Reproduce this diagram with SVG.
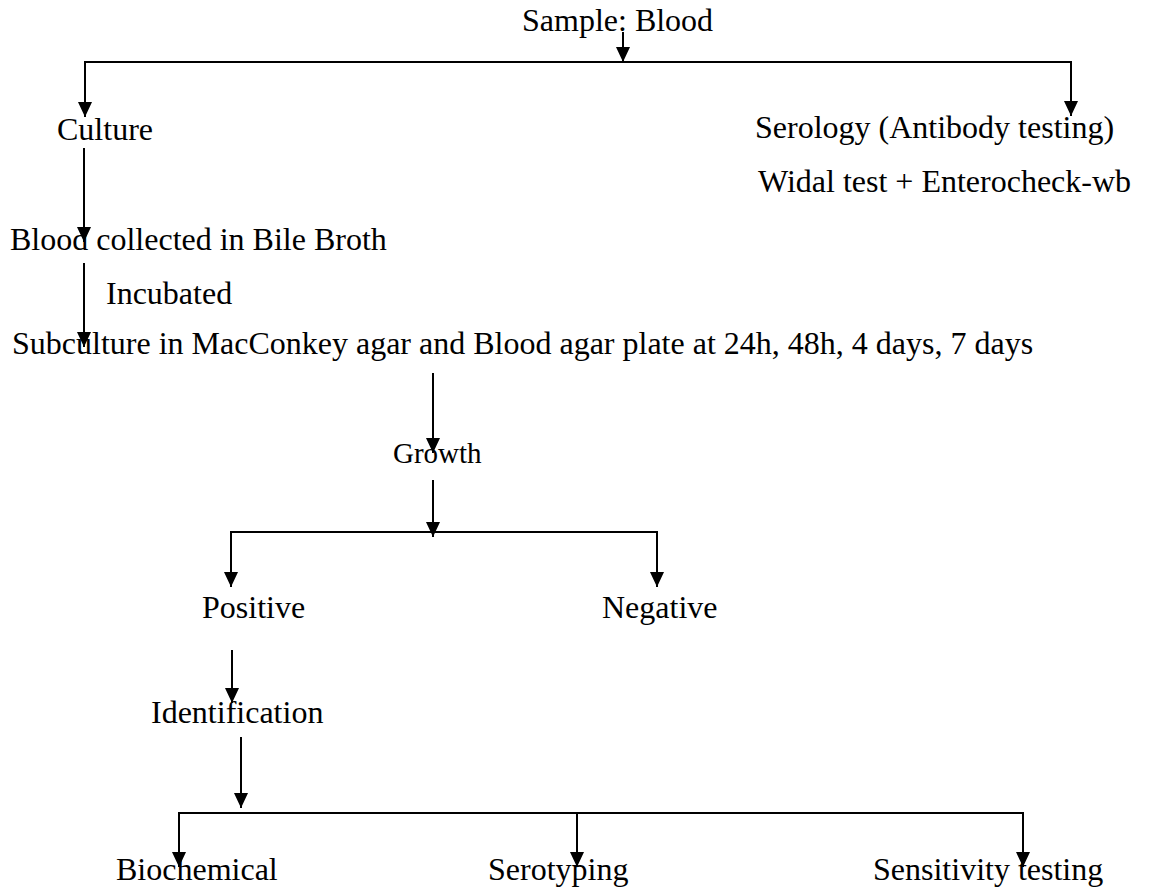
<svg xmlns="http://www.w3.org/2000/svg" width="1152" height="891" viewBox="0 0 1152 891">
  <style>
    text { font-family: "Liberation Serif", "Times New Roman", serif; font-size: 32px; fill: #000; }
    .ln { stroke: #000; stroke-width: 2; fill: none; }
    .ar { stroke: #000; stroke-width: 2; fill: none; marker-end: url(#ah); }
  </style>
  <defs>
    <marker id="ah" markerUnits="userSpaceOnUse" markerWidth="16" markerHeight="16" viewBox="0 0 16 16" refX="15" refY="8" orient="auto">
      <path d="M0,1 L15,8 L0,15 Z" fill="#000"/>
    </marker>
  </defs>
  <rect width="1152" height="891" fill="#fff"/>

  <g id="connectors">
    <line class="ar" x1="623" y1="32" x2="623" y2="62"/>
    <polyline class="ln" points="85,116 85,62 1071,62 1071,115"/>
    <line class="ar" x1="85" y1="90" x2="85" y2="117"/>
    <line class="ar" x1="1071" y1="90" x2="1071" y2="116"/>
    <line class="ar" x1="84" y1="148" x2="84" y2="242"/>
    <line class="ar" x1="84" y1="263" x2="84" y2="347"/>
    <line class="ar" x1="433" y1="373" x2="433" y2="453"/>
    <line class="ar" x1="433" y1="480" x2="433" y2="537"/>
    <polyline class="ln" points="231,570 231,532 657,532 657,570"/>
    <line class="ar" x1="231" y1="560" x2="231" y2="587"/>
    <line class="ar" x1="657" y1="560" x2="657" y2="587"/>
    <line class="ar" x1="232" y1="650" x2="232" y2="703"/>
    <line class="ar" x1="241" y1="737" x2="241" y2="808"/>
    <polyline class="ln" points="179,850 179,813 1023,813 1023,850"/>
    <line class="ar" x1="179" y1="840" x2="179" y2="867"/>
    <line class="ar" x1="577" y1="813" x2="577" y2="867"/>
    <line class="ar" x1="1023" y1="840" x2="1023" y2="867"/>
  </g>

  <g id="sample"><text x="522" y="31">Sample: Blood</text></g>
  <g id="culture"><text x="57" y="140">Culture</text></g>
  <g id="serology"><text x="755" y="138">Serology (Antibody testing)</text></g>
  <g id="widal"><text x="758" y="192">Widal test + Enterocheck-wb</text></g>
  <g id="blood-collected"><text x="10" y="250">Blood collected in Bile Broth</text></g>
  <g id="incubated"><text x="106" y="304">Incubated</text></g>
  <g id="subculture"><text x="12" y="354">Subculture in MacConkey agar and Blood agar plate at 24h, 48h, 4 days, 7 days</text></g>
  <g id="growth"><text x="393" y="463" style="font-size:29px">Growth</text></g>
  <g id="positive"><text x="202" y="618">Positive</text></g>
  <g id="negative"><text x="602" y="618">Negative</text></g>
  <g id="identification"><text x="151" y="723">Identification</text></g>
  <g id="biochemical"><text x="116" y="880">Biochemical</text></g>
  <g id="serotyping"><text x="488" y="880">Serotyping</text></g>
  <g id="sensitivity"><text x="873" y="880">Sensitivity testing</text></g>
</svg>
